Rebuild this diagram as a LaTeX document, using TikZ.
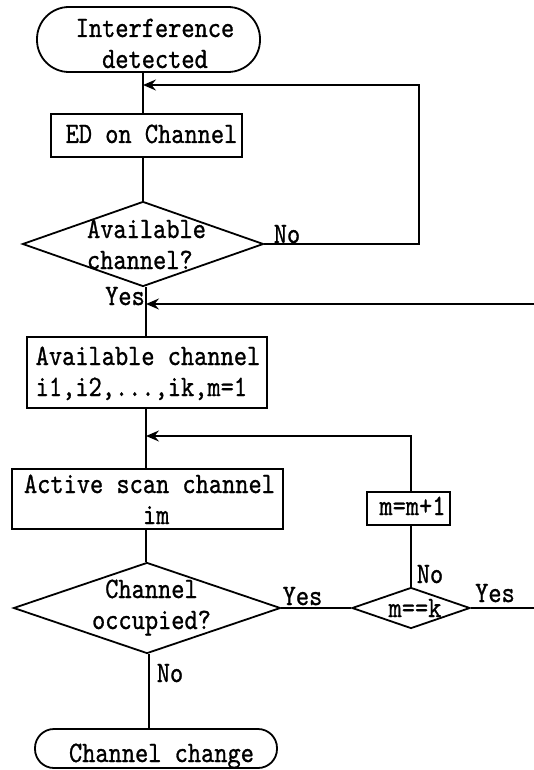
\documentclass[tikz,border=0pt]{standalone}
\usepackage{fontspec}
\newfontfamily\flowfont{lmmono10-regular}[Extension=.otf, FakeStretch=0.85, FakeBold=0.9]
\usetikzlibrary{shapes.geometric,arrows.meta}
% invisible strut: fixes line height/depth inside the labels
\newcommand\lstrut{\rule[-7pt]{0pt}{27pt}}

\begin{document}
\begin{tikzpicture}[x=1pt,y=-1pt,
  every node/.style={font=\flowfont\fontsize{29.6}{31}\selectfont},
  box/.style={draw, rectangle, line width=1.8pt, inner sep=0pt},
  term/.style={box},
  decision/.style={draw, diamond, line width=1.8pt, inner sep=0pt},
  lbl/.style={inner sep=0pt},
  tag/.style={anchor=base, inner sep=0pt},
  flow/.style={line width=1.8pt},
  arr/.style={line width=1.8pt, -{Stealth[length=13pt,width=11pt,inset=4.5pt]}}]

\useasboundingbox (0,0) rectangle (534,770);
\clip (0,0) rectangle (534,770);

% spine and loop-back positions
\coordinate (sp1) at (143,0);
\coordinate (sp2) at (146,0);
\coordinate (sp3) at (149,0);
\coordinate (j1) at (143,85);
\coordinate (j2) at (146,304);
\coordinate (j3) at (146,436);
\coordinate (rx1) at (419,0);
\coordinate (rx2) at (545,0);

% shapes
\node[term, rounded corners=32pt, minimum width=223pt, minimum height=65pt,
  label={[lbl, align=center, xshift=6.5pt, yshift=-6.5pt]center:{\lstrut Interference\\\lstrut detected}}]
  (start) at (148.5,39.5) {};

\node[box, minimum width=191pt, minimum height=43pt,
  label={[lbl, xshift=5pt, yshift=-1pt]center:{\lstrut ED on Channel}}]
  (ed) at (146.5,135.5) {};

\node[decision, minimum width=241pt, minimum height=85pt,
  label={[lbl, align=left, xshift=3.5pt, yshift=-3pt]center:{\lstrut Available\\\lstrut channel?}}]
  (avail) at (143,244) {};

\node[box, minimum width=240pt, minimum height=71pt,
  label={[lbl, align=left, xshift=1pt, yshift=-1.5pt]center:{\lstrut Available channel\\\lstrut i1,i2,...,ik,m=1}}]
  (list) at (147,372.5) {};

\node[box, minimum width=271pt, minimum height=60pt,
  label={[lbl, align=left, xshift=2pt, yshift=-3pt]center:{\lstrut Active scan channel\\\lstrut\hspace*{119pt}im}}]
  (scan) at (147.5,499) {};

\node[decision, minimum width=267pt, minimum height=91pt,
  label={[lbl, align=center, xshift=4.5pt, yshift=1pt]center:{\lstrut Channel\\\lstrut occupied?}}]
  (occ) at (147,608) {};

\node[box, minimum width=83pt, minimum height=33pt,
  label={[lbl, xshift=4pt]center:{\lstrut m=m+1}}]
  (inc) at (408.5,508.5) {};

\node[decision, minimum width=118pt, minimum height=41pt,
  label={[lbl, xshift=4pt, yshift=-2.5pt]center:{\lstrut m==k}}]
  (mk) at (411,608) {};

\node[term, rounded corners=19pt, minimum width=242pt, minimum height=39pt,
  label={[lbl, xshift=5.5pt, yshift=-7pt]center:{\lstrut Channel change}}]
  (stop) at (156,748.5) {};

% branch tags
\node[tag] (no1) at (287,243) {No};
\node[tag] (yes1) at (125,305) {Yes};
\node[tag] (yes2) at (302.5,605) {Yes};
\node[tag] (no2) at (430,583) {No};
\node[tag] (yes3) at (495,602) {Yes};
\node[tag] (no3) at (170,682) {No};

% main flow
\draw[flow] (start.south -| sp1) -- (ed.north -| sp1);
\draw[flow] (ed.south -| sp1) -- (avail.north);
\draw[flow] (avail.south -| sp2) -- (list.north -| sp2);
\draw[flow] (list.south -| sp2) -- (scan.north -| sp2);
\draw[flow] (scan.south -| sp2) -- (occ.north -| sp2);
\draw[flow] (occ.south -| sp3) -- (stop.north -| sp3);
\draw[flow] (occ.east) -- (mk.west);
\draw[flow] (mk.north) -- (mk.north |- inc.south);

% loop-backs
\draw[arr] (avail.east) -| (j1 -| rx1) -- (j1);
\draw[arr] (mk.north |- inc.north) |- (j3);
\draw[arr] (mk.east) -| (j2 -| rx2) -- (j2);

\end{tikzpicture}
\end{document}
